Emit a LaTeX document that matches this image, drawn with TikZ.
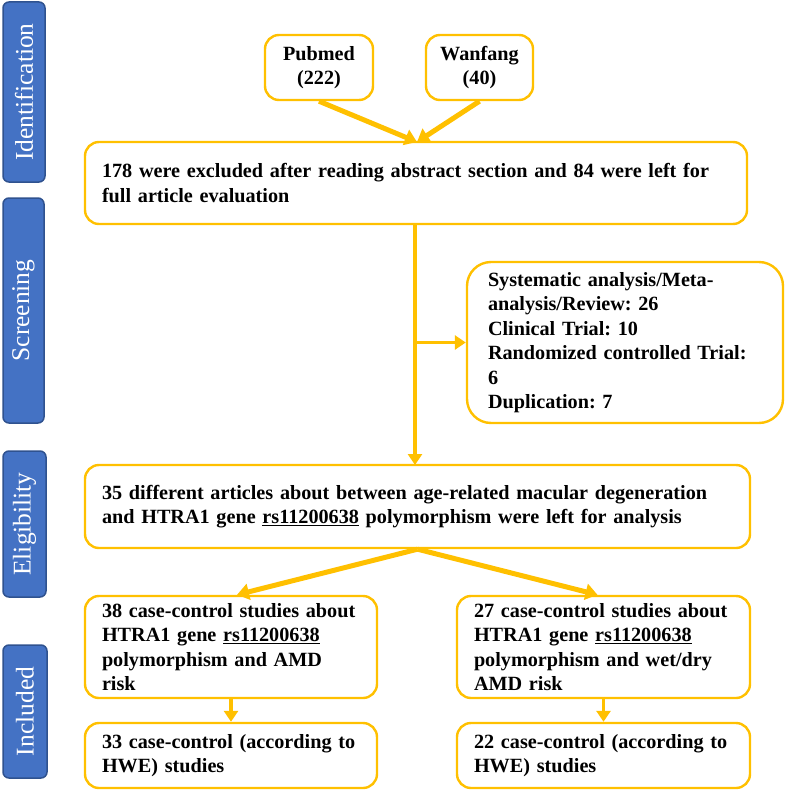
\documentclass[tikz,border=0pt]{standalone}
\usepackage{fontspec}
\setmainfont{Liberation Serif}
\usetikzlibrary{arrows.meta}
\definecolor{gold}{HTML}{FFC000}
\definecolor{lblue}{HTML}{4472C4}
\definecolor{dblue}{HTML}{2F528F}
\begin{document}
\frenchspacing
\begin{tikzpicture}[x=1pt,y=-1pt,
  box/.style={draw=gold, line width=2.4pt, rounded corners=14pt, fill=white,
    inner xsep=17pt, inner ysep=0pt, align=left,
    font=\fontsize{20.2}{24.5}\selectfont\bfseries},
  cbox/.style={box, align=center, inner xsep=4pt},
  lbl/.style={draw=dblue, fill=lblue, line width=1.5pt, rounded corners=6pt,
    text=white, rotate=90, inner sep=0pt, font=\fontsize{25.5}{28}\selectfont},
  arr/.style={draw=gold, line width=3.5pt, -{Triangle[length=11pt,width=14pt]}},
  thick arr/.style={arr, line width=5pt, -{Triangle[length=12pt,width=16pt]}}]
\useasboundingbox (0,0) rectangle (787,792);
% stage labels
\node[lbl, minimum width=180pt, minimum height=42pt] (lid) at (24,92) {Identification};
\node[lbl, minimum width=225pt, minimum height=41pt] (lsc) at (23.5,310.5) {Screening};
\node[lbl, minimum width=146pt, minimum height=43pt] (lel) at (24.5,524) {Eligibility};
\node[lbl, minimum width=133pt, minimum height=44pt] (lin) at (25,711.5) {Included};
% boxes
\node[cbox, minimum width=108pt, minimum height=65pt] (pub) at (319,67.5) {Pubmed\\(222)};
\node[cbox, minimum width=107pt, minimum height=65pt] (wan) at (479.5,67.5) {Wanfang\\(40)};
\node[box, text width=628pt, minimum height=82pt] (b1) at (416,183)
  {178 were excluded after reading abstract section and 84 were left for\\full article evaluation};
\node[box, rounded corners=24pt, inner xsep=21pt, text width=274pt, minimum height=161pt] (side) at (625,342.5)
  {Systematic analysis/Meta-\\analysis/Review: 26\\Clinical Trial: 10\\Randomized controlled Trial:\\6\\Duplication: 7};
\node[box, text width=631pt, minimum height=83pt] (b2) at (417.5,506.5)
  {35 different articles about between age-related macular degeneration\\and HTRA1 gene \underline{rs11200638} polymorphism were left for analysis};
\node[box, text width=258pt, minimum height=102pt] (b3) at (231,647)
  {38 case-control studies about\\HTRA1 gene \underline{rs11200638}\\polymorphism and AMD\\risk};
\node[box, text width=259pt, minimum height=102pt] (b4) at (603.5,647)
  {27 case-control studies about\\HTRA1 gene \underline{rs11200638}\\polymorphism and wet/dry\\AMD risk};
\node[box, text width=258pt, minimum height=65pt] (b5) at (231,755.5)
  {33 case-control (according to\\HWE) studies};
\node[box, text width=259pt, minimum height=65pt] (b6) at (603.5,755.5)
  {22 case-control (according to\\HWE) studies};
% connectors
\coordinate (top) at (417,142);
\draw[thick arr] (pub.south) -- (top);
\draw[thick arr] (wan.south) -- (top);
\coordinate (vt) at (415,224);
\coordinate (vb) at (415,465);
\coordinate (vm) at (415,342.5);
\draw[arr] (vt) -- (vb);
\draw[arr] (vm) -- (side.west);
\draw[thick arr] (b2.south) -- ([xshift=6pt]b3.north);
\draw[thick arr] (b2.south) -- ([xshift=-6pt]b4.north);
\draw[arr] (b3.south) -- (b5.north);
\draw[arr] (b4.south) -- (b6.north);
\end{tikzpicture}
\end{document}
